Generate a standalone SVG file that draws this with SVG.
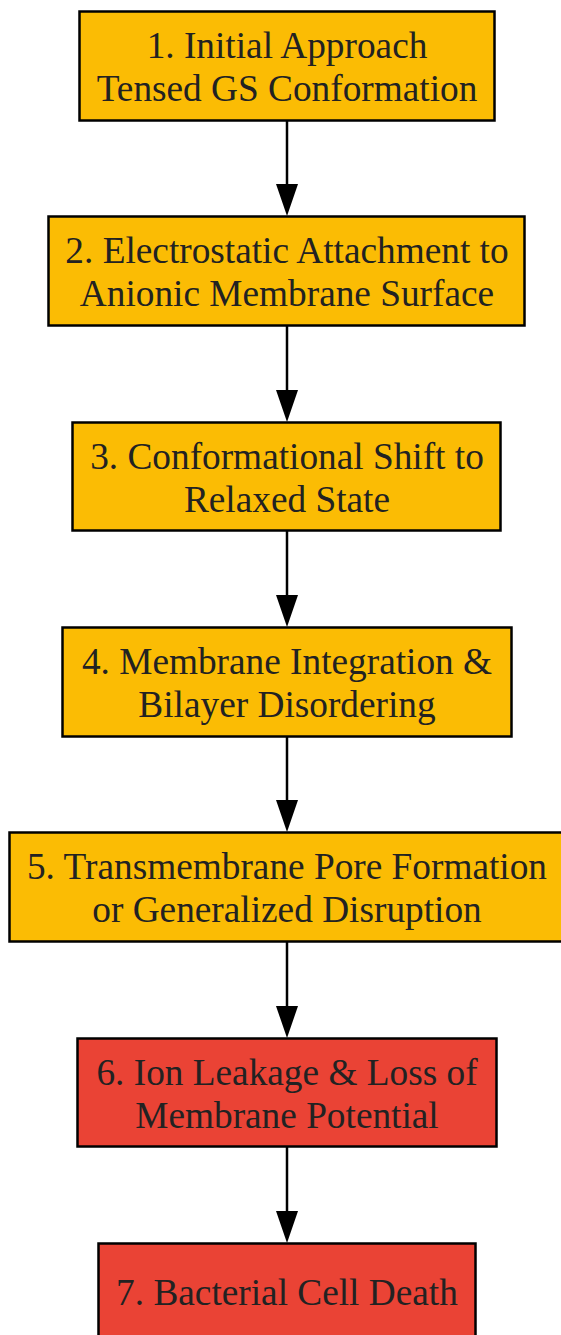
<svg xmlns="http://www.w3.org/2000/svg" width="561" height="1335" viewBox="0 0 561 1335">
<defs>
<style>
.box{stroke:#000;stroke-width:2.5}
.y{fill:#fbbc04}
.r{fill:#ea4335}
text{font-family:"Liberation Serif","Times New Roman",serif;font-size:37.3px;fill:#222;text-anchor:middle}
.e{stroke:#000;stroke-width:2.5;fill:none}
</style>
</defs>
<rect width="561" height="1335" fill="#fff"/>
<g id="edges">
<line class="e" x1="287" y1="121" x2="287" y2="187"/>
<path d="M276,184 L298,184 L287,216 Z"/>
<line class="e" x1="287" y1="326" x2="287" y2="392"/>
<path d="M276,390 L298,390 L287,422 Z"/>
<line class="e" x1="287" y1="531" x2="287" y2="597"/>
<path d="M276,595 L298,595 L287,627 Z"/>
<line class="e" x1="287" y1="737" x2="287" y2="803"/>
<path d="M276,800 L298,800 L287,832 Z"/>
<line class="e" x1="287" y1="942" x2="287" y2="1008"/>
<path d="M276,1006 L298,1006 L287,1038 Z"/>
<line class="e" x1="287" y1="1147" x2="287" y2="1213"/>
<path d="M276,1211 L298,1211 L287,1243 Z"/>
</g>
<g id="n1"><rect class="box y" x="79.5" y="11.5" width="415" height="109"/><text x="287" y="58">1. Initial Approach</text><text x="287" y="101">Tensed GS Conformation</text></g>
<g id="n2"><rect class="box y" x="48.5" y="216.5" width="476" height="109"/><text x="287" y="263">2. Electrostatic Attachment to</text><text x="287" y="306">Anionic Membrane Surface</text></g>
<g id="n3"><rect class="box y" x="72.5" y="422.5" width="428" height="108"/><text x="287" y="469">3. Conformational Shift to</text><text x="287" y="512">Relaxed State</text></g>
<g id="n4"><rect class="box y" x="62.5" y="627.5" width="449" height="109"/><text x="287" y="674">4. Membrane Integration &amp;</text><text x="287" y="717">Bilayer Disordering</text></g>
<g id="n5"><rect class="box y" x="9.5" y="832.5" width="556" height="109"/><text x="287" y="879">5. Transmembrane Pore Formation</text><text x="287" y="922">or Generalized Disruption</text></g>
<g id="n6"><rect class="box r" x="77.5" y="1038.5" width="419" height="108"/><text x="287" y="1085">6. Ion Leakage &amp; Loss of</text><text x="287" y="1128">Membrane Potential</text></g>
<g id="n7"><rect class="box r" x="98.5" y="1243.5" width="377" height="110"/><text x="287" y="1305">7. Bacterial Cell Death</text></g>
</svg>
